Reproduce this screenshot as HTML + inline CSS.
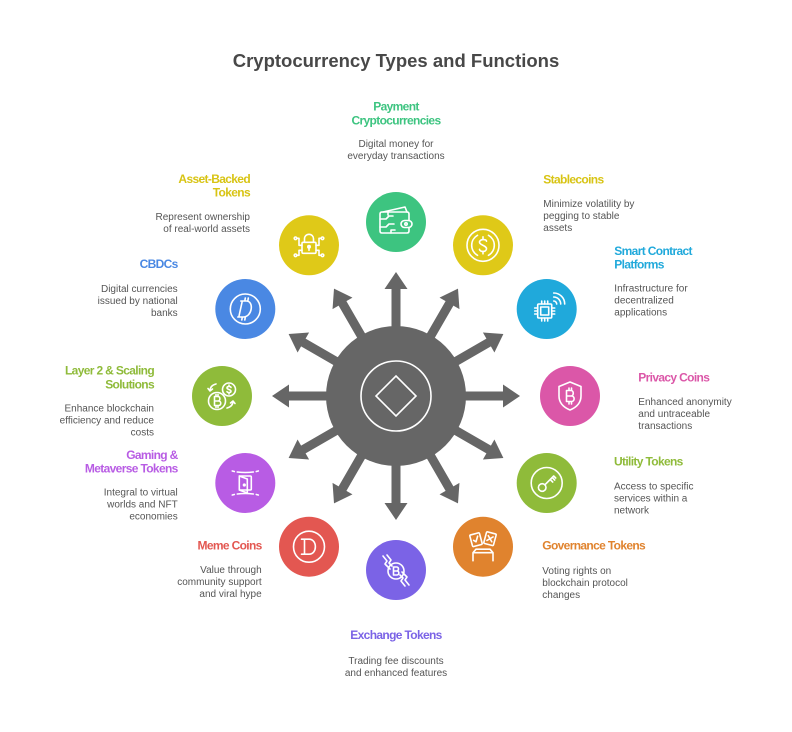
<!DOCTYPE html>
<html><head><meta charset="utf-8"><style>
html,body{margin:0;padding:0;background:#fff;}
svg{display:block;}
.t{font-family:"Liberation Sans",sans-serif;font-weight:bold;font-size:12px;letter-spacing:-0.65px;}
.d{font-family:"Liberation Sans",sans-serif;font-size:10px;fill:#555;}
.ic{fill:none;stroke:#fff;stroke-width:1.6;stroke-linecap:round;stroke-linejoin:round;}
</style></head><body>
<svg width="792" height="732" viewBox="0 0 792 732" xmlns="http://www.w3.org/2000/svg">
<rect width="792" height="732" fill="#fff"/>
<text x="396" y="67" text-anchor="middle" font-family="Liberation Sans, sans-serif" font-weight="bold" font-size="18.5" fill="#484848">Cryptocurrency Types and Functions</text>

<!-- arrows -->
<g fill="#666" transform="translate(396,396)">
<g id="ar"><polygon points="55,-4.5 107,-4.5 107,-11.5 124,0 107,11.5 107,4.5 55,4.5"/></g>
<use href="#ar" transform="rotate(30)"/><use href="#ar" transform="rotate(60)"/><use href="#ar" transform="rotate(90)"/>
<use href="#ar" transform="rotate(120)"/><use href="#ar" transform="rotate(150)"/><use href="#ar" transform="rotate(180)"/>
<use href="#ar" transform="rotate(210)"/><use href="#ar" transform="rotate(240)"/><use href="#ar" transform="rotate(270)"/>
<use href="#ar" transform="rotate(300)"/><use href="#ar" transform="rotate(330)"/>
<circle r="70" fill="#666"/>
<circle r="35" fill="none" stroke="#fff" stroke-width="1.6"/>
<polygon points="0,-20 20,0 0,20 -20,0" fill="none" stroke="#fff" stroke-width="1.6"/>
</g>

<!-- Payment -->
<circle cx="396" cy="222" r="30" fill="#3dc480"/>
<g class="ic" transform="translate(396,222)">
<path d="M-13,-10 L9,-15 L11,-10"/>
<path d="M13,-1.5 V-8 Q13,-10 11,-10 H-14 Q-16,-10 -16,-8 V9 Q-16,11 -14,11 H11 Q13,11 13,9 V5.5"/>
<rect x="5" y="-1.5" width="11" height="7" rx="3.5"/>
<circle cx="10" cy="2" r="1.2"/>
<path d="M-16,-3 H-10 L-7,-6 H-3 M-16,5 H-10 L-7,2 H-2 M-8,-10 V-7 M-5,11 V8 H-1"/>
</g>
<!-- Stablecoins -->
<circle cx="483" cy="245.3" r="30" fill="#dfc918"/>
<g class="ic" transform="translate(483,245.3)">
<circle r="16"/>
<path d="M-5.5,-10 A11.5,11.5 0 0 0 -5.5,10 M5.5,-10 A11.5,11.5 0 0 1 5.5,10"/>
<path d="M3.5,-4 C3.5,-6.5 -3.5,-6.5 -3.5,-3 C-3.5,0 3.5,0 3.5,3.5 C3.5,7 -3.5,7 -3.5,4 M0,-8.5 V-6 M0,6 V8.5"/>
</g>
<!-- Smart contract -->
<circle cx="546.7" cy="309" r="30" fill="#20a9db"/>
<g class="ic" transform="translate(546.7,309)">
<rect x="-9" y="-5" width="14" height="14" rx="1"/>
<rect x="-6" y="-2" width="8" height="8"/>
<path d="M-9,-1 H-12 M-9,2 H-12 M-9,5 H-12 M5,-1 H8 M5,2 H8 M5,5 H8 M-5,9 V12 M-2,9 V12 M1,9 V12 M-5,-5 V-8 M-2,-5 V-8 M1,-5 V-8"/>
<path d="M7,-8 A3,3 0 0 1 10,-5 M7,-12 A7,7 0 0 1 14,-5 M7,-16 A11,11 0 0 1 18,-5"/>
</g>
<!-- Privacy -->
<circle cx="570" cy="396" r="30" fill="#db57a8"/>
<g class="ic" transform="translate(570,396)">
<path d="M0,-14 L11,-9.5 V0 C11,7 6,11.5 0,14 C-6,11.5 -11,7 -11,0 V-9.5 Z"/>
<path d="M-3.5,-5.5 V5.5 H1.5 C5,5.5 5,0 1.5,0 H-3.5 M-3.5,0 H1 C4,0 4,-5.5 1,-5.5 H-3.5 M-1,-8 V-5.5 M1.5,-8 V-5.5 M-1,5.5 V8 M1.5,5.5 V8"/>
</g>
<!-- Utility -->
<circle cx="546.7" cy="483" r="30" fill="#8fbb3a"/>
<g class="ic" transform="translate(546.7,483)">
<circle r="15.5"/>
<circle cx="-4.5" cy="4.5" r="3.8"/>
<path d="M-1.8,1.8 L7,-7 M3.5,-3.5 L6,-1 M5.5,-5.5 L8,-3 M7,-7 L9,-5"/>
</g>
<!-- Governance -->
<circle cx="483" cy="546.7" r="30" fill="#e0832e"/>
<g class="ic" transform="translate(483,546.7)">
<g transform="rotate(-15 -7 -7)"><rect x="-12" y="-13" width="10" height="12" rx="1"/><path d="M-9.5,-7 L-7.5,-5 L-4.5,-10"/></g>
<g transform="rotate(15 7 -8)"><rect x="2" y="-14" width="10" height="12" rx="1"/><path d="M4.5,-10.5 L9.5,-5.5 M9.5,-10.5 L4.5,-5.5"/></g>
<path d="M-10,14 V6 L-7,2.5 H7 L10,6 V14 M-10,6 H10"/>
</g>
<!-- Exchange -->
<circle cx="396" cy="570" r="30" fill="#7b63e6"/>
<g class="ic" transform="translate(396,570)">
<circle cx="0" cy="1" r="8"/>
<path d="M-2.5,-3 V5 H1 C3.5,5 3.5,1 1,1 H-2.5 M-2.5,1 H0.8 C3,1 3,-3 0.8,-3 H-2.5"/>
<path d="M-13,-14 L-9,-9 L-11,-6 L-6,-1 M-9,-15 L-5,-10 L-7,-7 L-4,-4 M13,15 L9,10 L11,7 L6,2 M9,16 L5,11 L7,8 L4,5"/>
</g>
<!-- Meme -->
<circle cx="309" cy="546.7" r="30" fill="#e35751"/>
<g class="ic" transform="translate(309,546.7)">
<circle r="15.5"/>
<path d="M-4.5,-7.5 V7.5 M-7.5,-7.5 H0 C8.5,-7.5 8.5,7.5 0,7.5 H-7.5"/>
</g>
<!-- Gaming -->
<circle cx="245.3" cy="483" r="30" fill="#b85ce4"/>
<g class="ic" transform="translate(245.3,483)">
<path d="M-13,-12 L-11,-11.5 M-8,-11 Q0,-10 8,-11 M11,-11.5 L13,-12 M-13,12 L-11,11.5 M-8,11 Q0,10 8,11 M11,11.5 L13,12"/>
<rect x="-6" y="-7" width="12" height="14" rx="1"/>
<path d="M-6,-7 L2,-4 V10 L-6,7"/>
<circle cx="-1" cy="2" r="0.8"/>
</g>
<!-- Layer 2 -->
<circle cx="222" cy="396" r="30" fill="#8fbb3a"/>
<g class="ic" transform="translate(222,396)">
<circle cx="-5" cy="5" r="8.5"/>
<path d="M-7.5,0.5 V9.5 H-3.5 C-0.5,9.5 -0.5,5 -3.5,5 H-7.5 M-7.5,5 H-4 C-1.5,5 -1.5,0.5 -4,0.5 H-7.5 M-6,-1.5 V0.5 M-4,-1.5 V0.5 M-6,9.5 V11.5 M-4,9.5 V11.5"/>
<circle cx="7" cy="-6.5" r="6.5"/>
<path d="M9,-8.5 C9,-10 5,-10 5,-8 C5,-6.5 9,-6.5 9,-4.8 C9,-3 5,-3 5,-4.5 M7,-11 V-10 M7,-3 V-2"/>
<path d="M-6,-12 C-10,-11 -12,-9 -12,-5 M-12,-5 L-14,-7.5 M-12,-5 L-9.5,-7"/>
<path d="M5,12 C9,11 11,9 11,5 M11,5 L8.5,7 M11,5 L13,7.5"/>
</g>
<!-- CBDCs -->
<circle cx="245.3" cy="309" r="30" fill="#4a88e3"/>
<g class="ic" transform="translate(245.3,309)">
<circle r="15"/>
<path d="M-3,-8 L-6.5,8 M-4.5,-8 H1 C9,-8 7,8 -2,8 H-7.5 M-0.5,-8 L0,-11 M-3,8 L-3.5,11 M0,8 L-0.5,11 M2.5,-8 L3,-11"/>
</g>
<!-- Asset-backed -->
<circle cx="309" cy="245.3" r="30" fill="#dfc918"/>
<g class="ic" transform="translate(309,245.3)">
<path d="M-4.5,-3 V-6.5 A4.5,4.5 0 0 1 4.5,-6.5 V-3"/>
<rect x="-7" y="-3" width="14" height="11" rx="1.2"/>
<path d="M0,2 V5"/>
<circle cx="0" cy="1.5" r="1.2" fill="#fff"/>
<path d="M-7,0 H-10 V-7 H-12 M-7,5 H-10 V10 H-12 M7,0 H10 V-7 H12 M7,5 H10 V10 H12"/>
<circle cx="-13.5" cy="-7" r="1.3"/><circle cx="-13.5" cy="10" r="1.3"/>
<circle cx="13.5" cy="-7" r="1.3"/><circle cx="13.5" cy="10" r="1.3"/>
</g>

<!-- Labels -->
<text class="t" fill="#3dc480" text-anchor="middle"><tspan x="396" y="110.7">Payment</tspan><tspan x="396" y="124.7">Cryptocurrencies</tspan></text>
<text class="d" text-anchor="middle"><tspan x="396" y="147.2">Digital money for</tspan><tspan x="396" y="159.2">everyday transactions</tspan></text>

<text class="t" fill="#d8c414" text-anchor="end"><tspan x="250" y="183">Asset-Backed</tspan><tspan x="250" y="196.7">Tokens</tspan></text>
<text class="d" text-anchor="end"><tspan x="250" y="220">Represent ownership</tspan><tspan x="250" y="232">of real-world assets</tspan></text>

<text class="t" fill="#4a88e3" text-anchor="end"><tspan x="177.7" y="268">CBDCs</tspan></text>
<text class="d" text-anchor="end"><tspan x="177.7" y="292">Digital currencies</tspan><tspan x="177.7" y="304">issued by national</tspan><tspan x="177.7" y="316">banks</tspan></text>

<text class="t" fill="#8fbb3a" text-anchor="end"><tspan x="154" y="374.7">Layer 2 &amp; Scaling</tspan><tspan x="154" y="388.7">Solutions</tspan></text>
<text class="d" text-anchor="end"><tspan x="154" y="411.5">Enhance blockchain</tspan><tspan x="154" y="423.5">efficiency and reduce</tspan><tspan x="154" y="435.5">costs</tspan></text>

<text class="t" fill="#b85ce4" text-anchor="end"><tspan x="177.7" y="459">Gaming &amp;</tspan><tspan x="177.7" y="472.7">Metaverse Tokens</tspan></text>
<text class="d" text-anchor="end"><tspan x="177.7" y="495.5">Integral to virtual</tspan><tspan x="177.7" y="507.5">worlds and NFT</tspan><tspan x="177.7" y="519.5">economies</tspan></text>

<text class="t" fill="#e35751" text-anchor="end"><tspan x="261.7" y="549.7">Meme Coins</tspan></text>
<text class="d" text-anchor="end"><tspan x="261.7" y="573.2">Value through</tspan><tspan x="261.7" y="585.2">community support</tspan><tspan x="261.7" y="597.2">and viral hype</tspan></text>

<text class="t" fill="#7b63e6" text-anchor="middle"><tspan x="396" y="639">Exchange Tokens</tspan></text>
<text class="d" text-anchor="middle"><tspan x="396" y="663.9">Trading fee discounts</tspan><tspan x="396" y="675.9">and enhanced features</tspan></text>

<text class="t" fill="#e0832e"><tspan x="542.3" y="549.7">Governance Tokens</tspan></text>
<text class="d"><tspan x="542.3" y="573.9">Voting rights on</tspan><tspan x="542.3" y="585.9">blockchain protocol</tspan><tspan x="542.3" y="597.9">changes</tspan></text>

<text class="t" fill="#8fbb3a"><tspan x="614" y="465.7">Utility Tokens</tspan></text>
<text class="d"><tspan x="614" y="489.5">Access to specific</tspan><tspan x="614" y="501.5">services within a</tspan><tspan x="614" y="513.5">network</tspan></text>

<text class="t" fill="#db57a8"><tspan x="638.3" y="381.3">Privacy Coins</tspan></text>
<text class="d"><tspan x="638.3" y="405.2">Enhanced anonymity</tspan><tspan x="638.3" y="417.2">and untraceable</tspan><tspan x="638.3" y="429.2">transactions</tspan></text>

<text class="t" fill="#20a9db"><tspan x="614.3" y="255">Smart Contract</tspan><tspan x="614.3" y="268.5">Platforms</tspan></text>
<text class="d"><tspan x="614.3" y="291.5">Infrastructure for</tspan><tspan x="614.3" y="303.5">decentralized</tspan><tspan x="614.3" y="315.5">applications</tspan></text>

<text class="t" fill="#d8c414"><tspan x="543.3" y="183.3">Stablecoins</tspan></text>
<text class="d"><tspan x="543.3" y="207.2">Minimize volatility by</tspan><tspan x="543.3" y="219.2">pegging to stable</tspan><tspan x="543.3" y="231.2">assets</tspan></text>
</svg>
</body></html>
